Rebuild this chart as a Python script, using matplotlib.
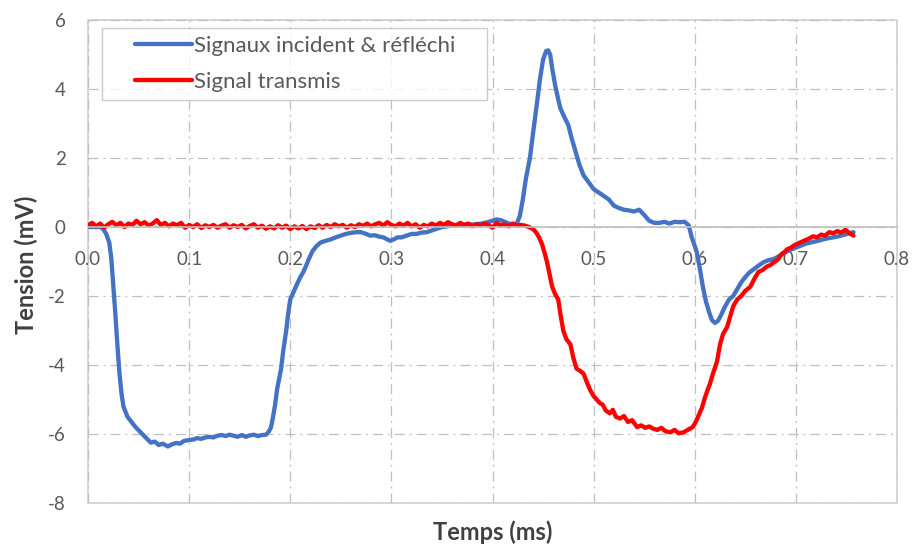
import numpy as np
import matplotlib
matplotlib.use('Agg')
import matplotlib.pyplot as plt
from matplotlib.patches import Rectangle
from matplotlib.legend_handler import HandlerLine2D

plt.rcParams['font.family'] = ['Lato', 'DejaVu Sans']
plt.rcParams['axes.unicode_minus'] = False

# Signaux incident & réfléchi (blue)
t_inc = [0.000, 0.006, 0.012, 0.015, 0.018, 0.021, 0.023, 0.025, 0.027, 0.029,
         0.031, 0.033, 0.035, 0.039, 0.043, 0.047, 0.052, 0.057, 0.062, 0.066,
         0.070, 0.074, 0.079, 0.083, 0.087, 0.091, 0.095, 0.099, 0.104, 0.108,
         0.112, 0.116, 0.120, 0.124, 0.128, 0.132, 0.136, 0.140, 0.144, 0.148,
         0.152, 0.156, 0.160, 0.164, 0.168, 0.172, 0.176, 0.179, 0.181, 0.183,
         0.185, 0.187, 0.189, 0.191, 0.193, 0.196, 0.198, 0.200, 0.203, 0.206,
         0.210, 0.213, 0.216, 0.218, 0.222, 0.226, 0.230, 0.235, 0.240, 0.245,
         0.250, 0.255, 0.260, 0.265, 0.270, 0.275, 0.279, 0.284, 0.288, 0.292,
         0.296, 0.299, 0.303, 0.306, 0.310, 0.315, 0.320, 0.325, 0.330, 0.335,
         0.340, 0.345, 0.350, 0.355, 0.360, 0.365, 0.370, 0.375, 0.380, 0.385,
         0.390, 0.395, 0.400, 0.404, 0.408, 0.412, 0.416, 0.420, 0.424, 0.427,
         0.430, 0.433, 0.437, 0.440, 0.444, 0.447, 0.450, 0.453, 0.455, 0.457,
         0.459, 0.462, 0.465, 0.467, 0.470, 0.475, 0.478, 0.482, 0.486, 0.490,
         0.495, 0.500, 0.505, 0.510, 0.515, 0.520, 0.525, 0.530, 0.535, 0.540,
         0.545, 0.550, 0.555, 0.560, 0.565, 0.570, 0.575, 0.580, 0.585, 0.590,
         0.594, 0.597, 0.600, 0.602, 0.605, 0.608, 0.611, 0.614, 0.617, 0.620,
         0.623, 0.626, 0.630, 0.634, 0.638, 0.642, 0.646, 0.650, 0.654, 0.658,
         0.663, 0.668, 0.673, 0.678, 0.683, 0.688, 0.693, 0.698, 0.704, 0.710,
         0.716, 0.722, 0.728, 0.733, 0.737, 0.742, 0.747, 0.752, 0.757]
v_inc = [0.00, 0.00, 0.00, -0.06, -0.20, -0.45, -0.90, -1.70, -2.50, -3.40,
         -4.20, -4.80, -5.20, -5.50, -5.65, -5.80, -5.95, -6.10, -6.25, -6.22,
         -6.32, -6.28, -6.36, -6.30, -6.26, -6.28, -6.20, -6.18, -6.16, -6.12,
         -6.14, -6.10, -6.08, -6.10, -6.05, -6.03, -6.06, -6.02, -6.05, -6.08,
         -6.03, -6.08, -6.04, -6.02, -6.06, -6.03, -6.02, -5.92, -5.80, -5.50,
         -5.15, -4.70, -4.40, -4.10, -3.60, -3.00, -2.50, -2.10, -1.90, -1.70,
         -1.45, -1.30, -1.10, -0.95, -0.70, -0.55, -0.45, -0.40, -0.36, -0.30,
         -0.25, -0.20, -0.17, -0.15, -0.15, -0.20, -0.25, -0.24, -0.28, -0.30,
         -0.36, -0.40, -0.35, -0.30, -0.30, -0.25, -0.20, -0.20, -0.16, -0.15,
         -0.10, -0.05, 0.00, 0.02, 0.05, 0.06, 0.05, 0.08, 0.07, 0.09,
         0.10, 0.14, 0.18, 0.22, 0.20, 0.15, 0.10, 0.08, 0.10, 0.32,
         0.80, 1.40, 2.00, 2.70, 3.60, 4.30, 4.85, 5.10, 5.12, 5.00,
         4.60, 4.10, 3.70, 3.45, 3.25, 2.95, 2.60, 2.20, 1.80, 1.50,
         1.30, 1.10, 1.00, 0.90, 0.80, 0.62, 0.55, 0.50, 0.48, 0.45,
         0.50, 0.35, 0.18, 0.12, 0.12, 0.15, 0.10, 0.15, 0.14, 0.15,
         0.05, -0.30, -0.55, -0.73, -1.20, -1.73, -2.15, -2.45, -2.70, -2.78,
         -2.72, -2.55, -2.30, -2.10, -2.00, -1.80, -1.60, -1.45, -1.32, -1.23,
         -1.12, -1.02, -0.96, -0.93, -0.85, -0.76, -0.68, -0.62, -0.55, -0.48,
         -0.44, -0.40, -0.35, -0.32, -0.30, -0.27, -0.23, -0.19, -0.15]

# Signal transmis (red)
t_tr = [0.000, 0.004, 0.008, 0.012, 0.016, 0.020, 0.024, 0.028, 0.032, 0.036,
        0.040, 0.044, 0.048, 0.052, 0.056, 0.060, 0.064, 0.068, 0.072, 0.076,
        0.080, 0.084, 0.088, 0.092, 0.096, 0.100, 0.104, 0.108, 0.112, 0.116,
        0.120, 0.124, 0.128, 0.132, 0.136, 0.140, 0.144, 0.148, 0.152, 0.156,
        0.160, 0.164, 0.168, 0.172, 0.176, 0.180, 0.184, 0.188, 0.192, 0.196,
        0.200, 0.204, 0.208, 0.212, 0.216, 0.220, 0.224, 0.228, 0.232, 0.236,
        0.240, 0.244, 0.248, 0.252, 0.256, 0.260, 0.264, 0.268, 0.272, 0.276,
        0.280, 0.284, 0.288, 0.292, 0.296, 0.300, 0.304, 0.308, 0.312, 0.316,
        0.320, 0.324, 0.328, 0.332, 0.336, 0.340, 0.344, 0.348, 0.352, 0.356,
        0.360, 0.364, 0.368, 0.372, 0.376, 0.380, 0.384, 0.388, 0.392, 0.396,
        0.400, 0.404, 0.408, 0.412, 0.416, 0.420, 0.424, 0.428, 0.432, 0.436,
        0.440, 0.443, 0.446, 0.449, 0.452, 0.454, 0.457, 0.459, 0.462, 0.465,
        0.467, 0.470, 0.473, 0.477, 0.480, 0.483, 0.487, 0.490, 0.494, 0.497,
        0.500, 0.503, 0.506, 0.509, 0.512, 0.516, 0.519, 0.522, 0.526, 0.530,
        0.534, 0.538, 0.543, 0.547, 0.551, 0.555, 0.559, 0.563, 0.567, 0.571,
        0.576, 0.580, 0.584, 0.589, 0.593, 0.598, 0.601, 0.604, 0.607, 0.610,
        0.613, 0.615, 0.618, 0.622, 0.625, 0.628, 0.632, 0.635, 0.638, 0.642,
        0.646, 0.650, 0.655, 0.659, 0.663, 0.667, 0.671, 0.675, 0.678, 0.682,
        0.686, 0.689, 0.691, 0.695, 0.699, 0.704, 0.708, 0.712, 0.717, 0.721,
        0.725, 0.729, 0.733, 0.737, 0.741, 0.745, 0.749, 0.753, 0.757]
v_tr = [0.05, 0.12, 0.02, 0.10, -0.02, 0.08, 0.15, 0.05, 0.12, 0.00,
        0.10, 0.06, 0.18, 0.08, 0.14, 0.04, 0.10, 0.20, 0.06, 0.12,
        0.02, 0.10, 0.05, 0.12, -0.02, 0.06, 0.00, 0.08, -0.03, 0.05,
        0.00, 0.06, -0.02, 0.04, 0.08, -0.02, 0.05, 0.00, 0.06, -0.04,
        0.03, 0.08, -0.02, 0.04, -0.05, 0.02, -0.04, 0.05, -0.02, 0.04,
        -0.06, 0.02, -0.04, 0.03, -0.06, 0.02, -0.03, 0.05, -0.02, 0.06,
        0.00, 0.08, 0.02, 0.06, -0.02, 0.05, 0.00, 0.08, 0.03, 0.10,
        0.02, 0.08, 0.12, 0.04, 0.14, 0.06, 0.02, 0.10, 0.04, 0.12,
        0.02, 0.08, -0.02, 0.06, 0.02, 0.10, 0.04, 0.12, 0.06, 0.14,
        0.08, 0.04, 0.12, 0.06, 0.10, 0.02, 0.08, 0.04, 0.10, 0.06,
        -0.02, 0.12, 0.04, 0.08, 0.02, 0.10, 0.04, 0.06, 0.04, 0.00,
        -0.06, -0.15, -0.30, -0.50, -0.80, -1.03, -1.45, -1.73, -1.95, -2.10,
        -2.50, -3.00, -3.25, -3.40, -3.80, -4.10, -4.18, -4.25, -4.55, -4.75,
        -4.90, -5.00, -5.10, -5.15, -5.32, -5.40, -5.30, -5.50, -5.55, -5.48,
        -5.65, -5.60, -5.80, -5.75, -5.82, -5.78, -5.85, -5.88, -5.82, -5.92,
        -5.95, -5.88, -5.98, -5.95, -5.88, -5.80, -5.65, -5.45, -5.25, -4.95,
        -4.70, -4.55, -4.25, -3.90, -3.40, -3.10, -2.90, -2.60, -2.30, -2.10,
        -2.00, -1.85, -1.73, -1.50, -1.30, -1.25, -1.15, -1.10, -1.03, -0.95,
        -0.78, -0.72, -0.65, -0.60, -0.52, -0.45, -0.40, -0.35, -0.27, -0.30,
        -0.22, -0.25, -0.15, -0.18, -0.12, -0.16, -0.08, -0.18, -0.25]

x_ticks = [0.0, 0.1, 0.2, 0.3, 0.4, 0.5, 0.6, 0.7, 0.8]
y_ticks = [-8, -6, -4, -2, 0, 2, 4, 6]

grey = '#BFBFBF'
txt = '#595959'


class LeadLine(HandlerLine2D):
    # legend line that starts after a blank lead (Excel style)
    def __init__(self, lead, **kw):
        super().__init__(**kw)
        self.lead = lead

    def get_xdata(self, legend, xdescent, ydescent, width, height, fontsize):
        xd = [-xdescent + self.lead, -xdescent + width]
        return xd, [(xd[0] + xd[1]) / 2]


fig = plt.figure(figsize=(9.14, 5.48), dpi=100)
ax = fig.add_axes([0.0963, 0.0821, 0.8851, 0.8814])

l1, = ax.plot(t_inc, v_inc, color='#4472C4', lw=3.1, label='Signaux incident & réfléchi',
              solid_joinstyle='round', solid_capstyle='round')
l2, = ax.plot(t_tr, v_tr, color='#FF0000', lw=3.1, label='Signal transmis',
              solid_joinstyle='round', solid_capstyle='round')

ax.set_xlim(0, 0.8)
ax.set_ylim(-8, 6)
ax.set_xticks(x_ticks)
ax.set_xticklabels([f'{v:.1f}' for v in x_ticks])
ax.set_yticks(y_ticks)
ax.set_yticklabels([str(v) for v in y_ticks])
ax.grid(True, color=grey, lw=0.9, linestyle=(0, (8, 4, 1.5, 4)))
ax.set_axisbelow(True)

for s in ['left', 'right', 'top']:
    ax.spines[s].set_visible(False)
ax.spines['bottom'].set_position(('data', 0))
ax.spines['bottom'].set_color(grey)
ax.spines['bottom'].set_linewidth(1.2)
ax.add_patch(Rectangle((0, 0), 1, 1, transform=ax.transAxes, fill=False,
                       edgecolor='#D0D0D0', lw=1.2, clip_on=False, zorder=0.5))

ax.tick_params(axis='x', length=0, pad=17, labelsize=13.5, labelcolor=txt)
ax.tick_params(axis='y', length=0, pad=16, labelsize=13.5, labelcolor=txt)

ax.set_xlabel('Temps (ms)', fontsize=17, fontweight='bold', color='#404040')
ax.xaxis.set_label_coords(0.5, -0.035)
ax.set_ylabel('Tension (mV)', fontsize=17, fontweight='bold', color='#404040')
ax.yaxis.set_label_coords(-0.062, 0.494)

h = LeadLine(lead=18)
leg = ax.legend(loc='upper left', bbox_to_anchor=(0.0173, 0.0, 0.476, 0.9834),
                mode='expand', fontsize=16, frameon=True, fancybox=False,
                handlelength=3.7, handletextpad=0.11, labelspacing=0.72,
                borderpad=0.35, borderaxespad=0,
                handler_map={l1: h, l2: h})
leg.get_frame().set_edgecolor(grey)
leg.get_frame().set_linewidth(1.0)
for t in leg.get_texts():
    t.set_color(txt)

fig.savefig('out.png', dpi=100)
